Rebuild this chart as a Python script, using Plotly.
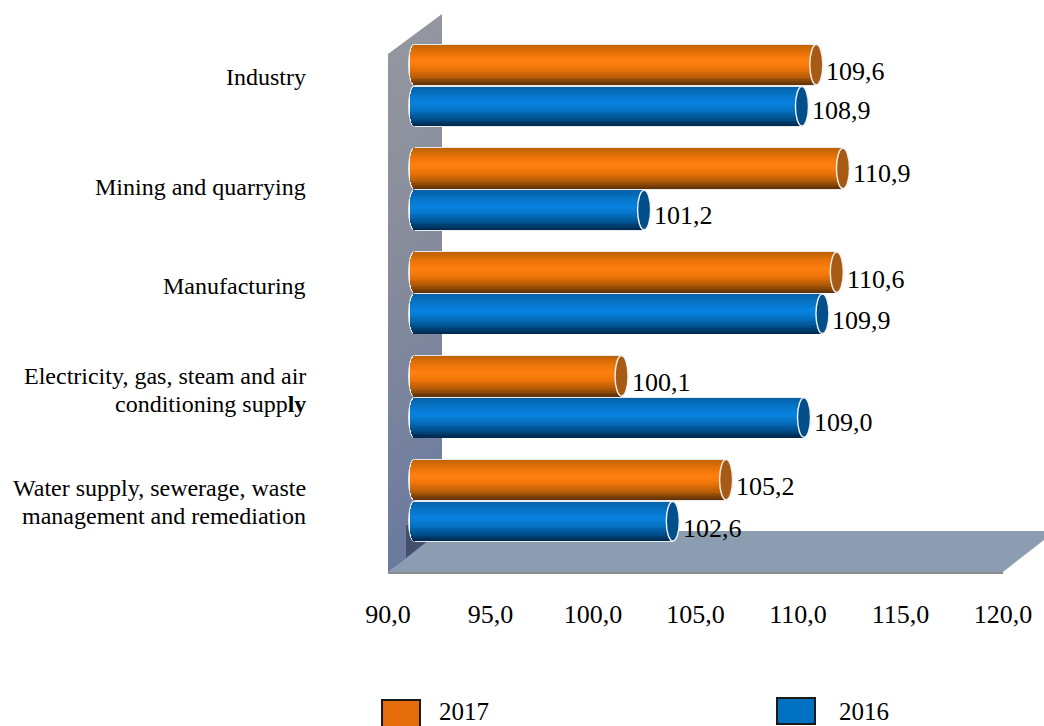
import math
import plotly.graph_objects as go

categories = ["Industry", "Mining and quarrying", "Manufacturing",
              "Electricity, gas, steam and air conditioning supply",
              "Water supply, sewerage, waste management and remediation"]
category_lines = [["Industry"], ["Mining and quarrying"], ["Manufacturing"],
                  ["Electricity, gas, steam and air", "conditioning supp<b>ly</b>"],
                  ["Water supply, sewerage, waste", "management and remediation"]]
values_2017 = [109.6, 110.9, 110.6, 100.1, 105.2]
values_2016 = [108.9, 101.2, 109.9, 109.0, 102.6]
x_ticks = [90, 95, 100, 105, 110, 115, 120]
x_tick_text = ["90,0", "95,0", "100,0", "105,0", "110,0", "115,0", "120,0"]
series_names = ["2017", "2016"]

W, H = 1044, 726
FONT = "Liberation Serif"
PX_PER_CAT = 103.75
PX_PER_UNIT = (1003 - 388) / 30.0
BAR_BASE = 90.0
DEPTH_UNITS = 26.5 / PX_PER_UNIT


def fx(px):
    return px / W


def fy(py):
    return 1 - py / H


def hexrgb(c):
    return tuple(int(c[i:i + 2], 16) for i in (1, 3, 5))


def ramp(stops, t):
    for (t0, c0), (t1, c1) in zip(stops, stops[1:]):
        if t <= t1:
            a, b = hexrgb(c0), hexrgb(c1)
            f = (t - t0) / (t1 - t0)
            return "rgb(%d,%d,%d)" % tuple(round(a[k] + (b[k] - a[k]) * f) for k in range(3))
    return stops[-1][1]


def path(points):
    return "M " + " L ".join("%.5f,%.5f" % (fx(a), fy(b)) for a, b in points) + " Z"


orange_stops = [(0, "#bd6205"), (0.2, "#e87208"), (0.42, "#ff8010"), (0.6, "#ee7408"),
                (0.82, "#b05a08"), (1, "#5a2e08")]
blue_stops = [(0, "#0560a4"), (0.2, "#0673c4"), (0.42, "#0783e2"), (0.6, "#0673c4"),
              (0.82, "#00508c"), (1, "#00274c")]

shapes = []
# side wall, drawn as thin slices for the vertical shading
wall_stops = [(0, "#93969f"), (0.45, "#868b9c"), (0.8, "#74809e"), (1, "#6a7a9e")]
n_wall = 40
for i in range(n_wall):
    t0, t1 = i / n_wall, (i + 1) / n_wall
    yl0, yl1 = 54 + (572 - 54) * t0, 54 + (572 - 54) * t1
    yr0, yr1 = 14 + (531 - 14) * t0, 14 + (531 - 14) * t1
    shapes.append(dict(type="path", xref="paper", yref="paper", layer="below",
                       path=path([(388, yl0), (442, yr0), (442, yr1 + 0.7), (388, yl1 + 0.7)]),
                       fillcolor=ramp(wall_stops, (t0 + t1) / 2), line=dict(width=0)))
# floor and the dark corner
shapes.append(dict(type="path", xref="paper", yref="paper", layer="below",
                   path=path([(388, 572), (1003, 572), (1044, 540), (1044, 531), (442, 531)]),
                   fillcolor="#8d9db1", line=dict(width=0)))
shapes.append(dict(type="path", xref="paper", yref="paper", layer="below",
                   path=path([(406, 525), (440, 530), (428, 540), (406, 558)]),
                   fillcolor="#434f6b", line=dict(width=0)))
shapes.append(dict(type="rect", xref="paper", yref="paper", layer="below",
                   x0=fx(388), x1=fx(1003), y0=fy(574), y1=fy(572),
                   fillcolor="#8c8c8c", line=dict(width=0)))

traces = [go.Scatter(x=x_ticks, y=[categories[0]] * 7, xaxis="x", yaxis="y", mode="markers",
                     marker=dict(opacity=0, size=1), showlegend=False, hoverinfo="skip")]
n_bands = 22
series = [(values_2017, orange_stops, -41.0, 40.5, "#a65a14"),
          (values_2016, blue_stops, 1.0, 39.5, "#024f8b")]
ELL = 6.5 / PX_PER_UNIT
ELL_LEFT = 5 / PX_PER_UNIT
top_shapes = []

for vals, stops, off_px, h_px, cap in series:
    off = off_px / PX_PER_CAT
    h = h_px / PX_PER_CAT
    # white outline behind each bar
    traces.append(go.Bar(orientation="h", y=categories, x=[v - BAR_BASE for v in vals],
                         base=[BAR_BASE] * 5, offset=off - 0.9 / PX_PER_CAT,
                         width=h + 1.8 / PX_PER_CAT, xaxis="x2", yaxis="y",
                         marker=dict(color="#e9eaec", line=dict(width=0)),
                         showlegend=False, hoverinfo="skip"))
    for i in range(5):
        shapes.append(dict(type="circle", xref="x2", yref="y", layer="below",
                           x0=BAR_BASE - ELL_LEFT - 1.4 / PX_PER_UNIT, x1=BAR_BASE + ELL_LEFT,
                           y0=i + off - 0.5 / PX_PER_CAT, y1=i + off + h + 0.5 / PX_PER_CAT,
                           fillcolor="#f4f4f4", line=dict(width=0)))
        top_shapes.append(dict(type="circle", xref="x2", yref="y", layer="above",
                               x0=vals[i] - ELL, x1=vals[i] + ELL,
                               y0=i + off, y1=i + off + h,
                               fillcolor=cap, line=dict(color="#f2f2f2", width=1.4)))
    for b in range(n_bands):
        t = (b + 0.5) / n_bands
        s = 2 * t - 1
        start = BAR_BASE - ELL_LEFT * math.sqrt(max(0, 1 - s * s))
        traces.append(go.Bar(orientation="h", y=categories, x=[v - start for v in vals],
                             base=[start] * 5, offset=off + h * b / n_bands,
                             width=h / n_bands + 0.3 / PX_PER_CAT, xaxis="x2", yaxis="y",
                             marker=dict(color=ramp(stops, t), line=dict(width=0)),
                             showlegend=False, hoverinfo="skip"))

annotations = []
# category labels: right aligned in the left margin, one annotation per line
cat_shift = [[8], [2], [7], [21, -7], [13, -15]]
for i, lines in enumerate(category_lines):
    for line, shift in zip(lines, cat_shift[i]):
        annotations.append(dict(text=line, xref="paper", yref="y", x=fx(308), y=i, yshift=shift,
                                xanchor="right", yanchor="middle", align="right", showarrow=False,
                                font=dict(family=FONT, size=24, color="#000")))
# value labels
for vals, off_px, shifts in [(values_2017, -20.5, [-7, -5, -7, -6, -6]),
                             (values_2016, 20.5, [-4.5, -6, -7, -5, -7])]:
    for i, v in enumerate(vals):
        annotations.append(dict(text=("%.1f" % v).replace(".", ","), xref="x2", yref="y",
                                x=v, y=i + off_px / PX_PER_CAT, xshift=8, yshift=shifts[i],
                                xanchor="left", yanchor="middle", showarrow=False,
                                font=dict(family=FONT, size=26, color="#000")))
# legend keys
for name, x0, x1, y0, y1, col, tx, ty in [(series_names[0], 382, 420, 700, 728, "#e46c0a", 437, 711.5),
                                          (series_names[1], 777, 815, 698, 724, "#0070c0", 837, 711.5)]:
    shapes.append(dict(type="rect", xref="paper", yref="paper", x0=fx(x0), x1=fx(x1), y0=fy(y1), y1=fy(y0),
                       fillcolor=col, line=dict(color="#1a1a1a", width=2)))
    annotations.append(dict(text=name, xref="paper", yref="paper", x=fx(tx), y=fy(ty),
                            xanchor="left", yanchor="middle", showarrow=False,
                            font=dict(family=FONT, size=25, color="#000")))

fig = go.Figure(traces)
fig.update_layout(
    width=W, height=H, margin=dict(l=0, r=0, t=0, b=0, autoexpand=False),
    paper_bgcolor="#ffffff", plot_bgcolor="rgba(0,0,0,0)",
    barmode="overlay", bargap=0, showlegend=False,
    shapes=shapes + top_shapes, annotations=annotations,
    xaxis=dict(domain=[fx(388), fx(1003)], range=[90, 120], anchor="y", automargin=False,
               tickmode="array", tickvals=x_ticks, ticktext=x_tick_text,
               showgrid=False, zeroline=False, showline=False, ticks="",
               ticklabelstandoff=24, tickfont=dict(family=FONT, size=26, color="#000")),
    xaxis2=dict(overlaying="x", anchor="y", domain=[fx(388), fx(1003)], automargin=False,
                range=[90 - DEPTH_UNITS, 120 - DEPTH_UNITS], visible=False),
    yaxis=dict(domain=[fy(572), fy(14)], anchor="x", type="category", categoryorder="array",
               categoryarray=categories, automargin=False,
               range=[(572 - 85.5) / PX_PER_CAT, (14 - 85.5) / PX_PER_CAT],
               showgrid=False, zeroline=False, showline=False, ticks="", showticklabels=False),
)
fig.write_html("out.html", config=dict(displayModeBar=False),
               post_script="document.body.style.margin='0';document.body.style.overflow='hidden';")
